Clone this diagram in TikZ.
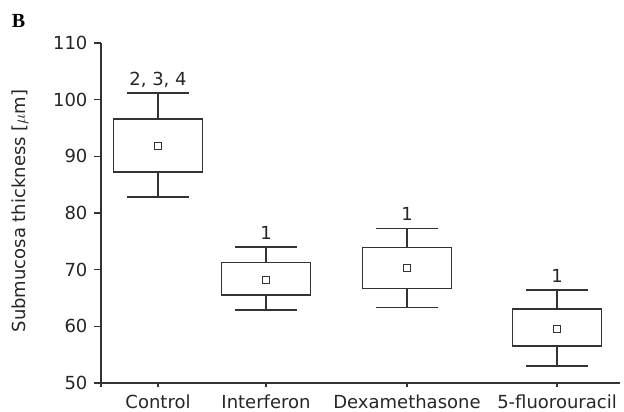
\documentclass[tikz,border=0pt]{standalone}
\usepackage{fontspec}
\newfontfamily\plotfont{DejaVu Sans}
\newfontfamily\panelfont{Liberation Serif}
\begin{document}
\begin{tikzpicture}[x=1pt,y=5.667pt,shift={(0,-50)},
  every node/.style={font=\plotfont\fontsize{18}{20}\selectfont,text=black!85,inner sep=0pt},
  plotline/.style={draw=black!80,line width=1.1pt}]
  \useasboundingbox (0,45.06) rectangle (624,117.59);
  \node[font=\panelfont\bfseries\fontsize{20}{20}\selectfont,text=black] (panel) at (18.5,113.9) {B};
  \draw[plotline] (101,110) -- (101,49.3);
  \draw[plotline] (101,50) -- (620,50);
  \foreach \v in {50,60,...,110}
    \draw[plotline] (101,\v) -- (94,\v) node[left=6pt] (tick\v) {\v};
  \node[rotate=90] (ylabel) at (20,80.35) {Submucosa thickness [$\mu$m]};
  \foreach \x/\lo/\qa/\m/\qb/\hi/\txt [count=\i] in {158/82.82/87.23/91.82/96.59/101.17/{2, 3, 4},
      266/62.88/65.53/68.18/71.30/74.00/1, 407/63.29/66.71/70.24/73.88/77.30/1,
      557/53.0/56.53/59.53/63.06/66.41/1}{
    \draw[plotline] (\x,50) -- (\x,49.3);
    \draw[plotline] (\x-31,\lo) -- (\x+31,\lo) (\x,\lo) -- (\x,\qa)
      (\x,\qb) -- (\x,\hi) (\x-31,\hi) -- (\x+31,\hi);
    \draw[plotline] (\x-44.5,\qa) rectangle (\x+44.5,\qb);
    \draw[plotline,line width=0.9pt] (\x-3.5,{\m-0.62}) rectangle (\x+3.5,{\m+0.62});
    \node[anchor=base] (sig\i) at (\x,{\hi+1.3}) {\txt};
  }
  \foreach \x/\name [count=\i] in {158/Control,266/Interferon,407/Dexamethasone,557/5-fluorouracil}
    \node[anchor=base] (group\i) at (\x,45.59) {\name};
\end{tikzpicture}
\end{document}
